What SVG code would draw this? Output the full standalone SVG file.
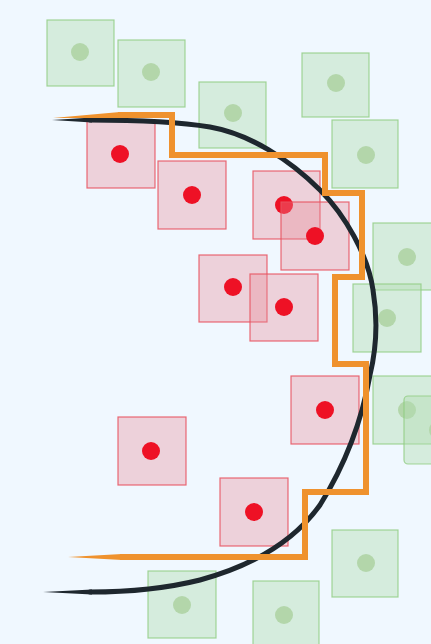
<svg xmlns="http://www.w3.org/2000/svg" width="431" height="644" viewBox="0 0 431 644">
<style>
.g rect{fill:#b4deb4;fill-opacity:0.45;stroke:#8fcc80;stroke-opacity:0.8;stroke-width:1.2}
.g circle{fill:#b3d6aa}
.r rect{fill:#e88a95;fill-opacity:0.35;stroke:#e8505d;stroke-opacity:0.85;stroke-width:1.2}
.r circle{fill:#ee1125}
.curve{fill:none;stroke:#1e272e;stroke-width:5;stroke-linecap:round}
.stair{fill:none;stroke:#ef922e;stroke-width:6;stroke-linejoin:miter}
</style>
<rect width="431" height="644" fill="#f0f8ff"/>
<g id="green-1" class="g"><rect x="47" y="20" width="67" height="66"/><circle cx="80" cy="52" r="9"/></g>
<g id="green-2" class="g"><rect x="118" y="40" width="67" height="67"/><circle cx="151" cy="72" r="9"/></g>
<g id="green-3" class="g"><rect x="199" y="82" width="67" height="66"/><circle cx="233" cy="113" r="9"/></g>
<g id="green-4" class="g"><rect x="302" y="53" width="67" height="64"/><circle cx="336" cy="83" r="9"/></g>
<g id="green-5" class="g"><rect x="332" y="120" width="66" height="68"/><circle cx="366" cy="155" r="9"/></g>
<g id="green-6" class="g"><rect x="373" y="223" width="68" height="67"/><circle cx="407" cy="257" r="9"/></g>
<g id="green-7" class="g"><rect x="353" y="284" width="68" height="68"/><circle cx="387" cy="318" r="9"/></g>
<g id="green-8" class="g"><rect x="373" y="376" width="68" height="68"/><circle cx="407" cy="410" r="9"/></g>
<g id="green-9" class="g"><rect x="404" y="396" width="68" height="68" rx="4"/><circle cx="438" cy="430" r="9"/></g>
<g id="green-10" class="g"><rect x="148" y="571" width="68" height="67"/><circle cx="182" cy="605" r="9"/></g>
<g id="green-11" class="g"><rect x="253" y="581" width="66" height="68"/><circle cx="284" cy="615" r="9"/></g>
<g id="green-12" class="g"><rect x="332" y="530" width="66" height="67"/><circle cx="366" cy="563" r="9"/></g>
<g id="red-1" class="r"><rect x="87" y="120" width="68" height="68"/><circle cx="120" cy="154" r="9"/></g>
<g id="red-2" class="r"><rect x="158" y="161" width="68" height="68"/><circle cx="192" cy="195" r="9"/></g>
<g id="red-3" class="r"><rect x="253" y="171" width="67" height="68"/><circle cx="284" cy="205" r="9"/></g>
<g id="red-4" class="r"><rect x="281" y="202" width="68" height="68"/><circle cx="315" cy="236" r="9"/></g>
<g id="red-5" class="r"><rect x="199" y="255" width="68" height="67"/><circle cx="233" cy="287" r="9"/></g>
<g id="red-6" class="r"><rect x="250" y="274" width="68" height="67"/><circle cx="284" cy="307" r="9"/></g>
<g id="red-7" class="r"><rect x="291" y="376" width="68" height="68"/><circle cx="325" cy="410" r="9"/></g>
<g id="red-8" class="r"><rect x="118" y="417" width="68" height="68"/><circle cx="151" cy="451" r="9"/></g>
<g id="red-9" class="r"><rect x="220" y="478" width="68" height="68"/><circle cx="254" cy="512" r="9"/></g>
<g id="connectors">
<path class="curve" d="M90 120 C140 120 180 122 210 127 C250 134 290 160 320 190 C345 215 368 255 373 290 C378 320 376 350 370 375 C362 420 345 465 320 505 C295 540 255 565 200 580 C160 590 120 592 90 592"/>
<polygon fill="#1e272e" points="52,120 92,117.5 92,122.5"/>
<polygon fill="#1e272e" points="43,592 92,589.5 92,594.5"/>
<path class="stair" d="M118 115 L172 115 L172 155 L325 155 L325 193 L362 193 L362 277 L335 277 L335 364 L366 364 L366 492 L305 492 L305 557 L120 557"/>
<polygon fill="#ef922e" points="53,118 120,112 120,118"/>
<polygon fill="#ef922e" points="68,557 122,554 122,560"/>
</g>
</svg>
